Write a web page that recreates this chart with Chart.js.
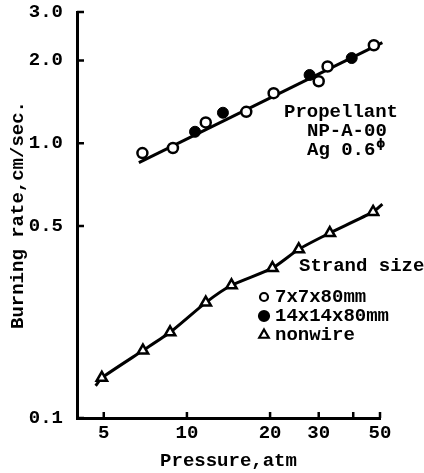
<!DOCTYPE html>
<html>
<head>
<meta charset="utf-8">
<script src="https://cdn.jsdelivr.net/npm/chart.js@4.4.0/dist/chart.umd.min.js"></script>
<style>
  html, body { margin: 0; padding: 0; background: #fff; }
</style>
</head>
<body>
<canvas id="rateChart" width="424" height="473"></canvas>
<script>
// strand 7x7x80mm (open circles)
const p7 = [6.9, 8.9, 11.7, 16.4, 20.6, 30.0, 32.3, 47.5];
const r7 = [0.92, 0.96, 1.19, 1.30, 1.52, 1.68, 1.90, 2.27];
// strand 14x14x80mm (filled circles)
const p14 = [10.7, 13.5, 27.8, 39.5];
const r14 = [1.10, 1.29, 1.77, 2.04];
// nonwire (triangles)
const pNon = [4.92, 6.93, 8.69, 11.7, 14.5, 20.4, 25.4, 32.9, 47.2];
const rNon = [0.140, 0.176, 0.205, 0.263, 0.304, 0.351, 0.411, 0.471, 0.562];
// hand-drawn lines through the points
const fitP = [6.7, 51];
const fitR = [0.85, 2.32];
const curveStart = [4.67, 0.131];
const curveEnd = [51, 0.60];

const xTicks = [5, 10, 20, 30, 40, 50];
const xTickLabels = ['5', '10', '20', '30', '', '50'];
const yTicks = [0.1, 0.5, 1.0, 2.0, 3.0];
const yTickLabels = ['0.1', '0.5', '1.0', '2.0', '3.0'];

const FONT = { family: '"Liberation Mono", "DejaVu Sans Mono", monospace', size: 19, weight: 'bold' };
const pts = (xs, ys) => xs.map((x, i) => ({ x: x, y: ys[i] }));

const curveData = [{ x: curveStart[0], y: curveStart[1] }]
  .concat(pts(pNon, rNon))
  .concat([{ x: curveEnd[0], y: curveEnd[1] }]);

// ticks point inward, like the original log paper
const inwardTicks = {
  id: 'inwardTicks',
  afterDatasetsDraw(chart) {
    const { ctx, chartArea: a, scales: { x, y } } = chart;
    ctx.save();
    ctx.strokeStyle = '#000';
    ctx.lineWidth = 2.5;
    ctx.beginPath();
    xTicks.forEach(v => {
      const px = x.getPixelForValue(v);
      ctx.moveTo(px, a.bottom);
      ctx.lineTo(px, a.bottom - 6);
    });
    yTicks.forEach(v => {
      const py = y.getPixelForValue(v);
      ctx.moveTo(a.left, py);
      ctx.lineTo(a.left + 7, py);
    });
    ctx.stroke();
    ctx.restore();
  }
};

// text notes and the strand size key
const notes = {
  id: 'notes',
  afterDraw(chart) {
    const ctx = chart.ctx;
    ctx.save();
    ctx.fillStyle = '#000';
    ctx.font = 'bold 19px "Liberation Mono", monospace';
    ctx.textBaseline = 'middle';
    ctx.textAlign = 'left';
    ctx.fillText('Propellant', 284, 112);
    ctx.fillText('NP-A-00', 307, 131);
    ctx.fillText('Ag 0.6', 307, 150);
    ctx.fillText('Strand size', 299, 266);
    ctx.fillText('7x7x80mm', 275, 297);
    ctx.fillText('14x14x80mm', 275, 316);
    ctx.fillText('nonwire', 275, 335);
    ctx.font = 'bold 12px "DejaVu Sans", sans-serif';
    ctx.fillText('\u03D5', 376, 144);

    ctx.strokeStyle = '#000';
    ctx.lineWidth = 2.2;
    ctx.fillStyle = '#fff';
    Chart.helpers.drawPoint(ctx, { pointStyle: 'circle', radius: 4, borderWidth: 2.2 }, 264, 297);
    ctx.fillStyle = '#000';
    Chart.helpers.drawPoint(ctx, { pointStyle: 'circle', radius: 5, borderWidth: 1 }, 264, 316);
    ctx.fillStyle = '#fff';
    Chart.helpers.drawPoint(ctx, { pointStyle: 'triangle', radius: 5.5, borderWidth: 2.2 }, 264, 335);
    ctx.restore();
  }
};

new Chart(document.getElementById('rateChart'), {
  type: 'scatter',
  data: {
    datasets: [
      {
        label: '7x7x80mm',
        data: pts(p7, r7),
        pointStyle: 'circle',
        pointRadius: 5,
        borderWidth: 2.5,
        borderColor: '#000',
        backgroundColor: '#fff',
        order: 0
      },
      {
        label: '14x14x80mm',
        data: pts(p14, r14),
        pointStyle: 'circle',
        pointRadius: 5.5,
        borderWidth: 1,
        borderColor: '#000',
        backgroundColor: '#000',
        order: 0
      },
      {
        label: 'nonwire',
        data: pts(pNon, rNon),
        pointStyle: 'triangle',
        pointRadius: 6,
        borderWidth: 2.5,
        borderColor: '#000',
        backgroundColor: '#fff',
        order: 0
      },
      {
        label: 'fit',
        data: pts(fitP, fitR),
        showLine: true,
        borderColor: '#000',
        borderWidth: 3,
        pointRadius: 0,
        clip: 10,
        order: 5
      },
      {
        label: 'nonwire curve',
        data: curveData,
        showLine: true,
        tension: 0.2,
        borderColor: '#000',
        borderWidth: 3,
        pointRadius: 0,
        clip: 10,
        order: 5
      }
    ]
  },
  options: {
    responsive: false,
    animation: false,
    layout: { padding: { top: 12, right: 44, left: 0, bottom: 0 } },
    plugins: {
      legend: { display: false },
      tooltip: { enabled: false }
    },
    scales: {
      x: {
        type: 'logarithmic',
        min: 4,
        max: 50,
        afterBuildTicks: s => { s.ticks = xTicks.map(v => ({ value: v })); },
        afterFit: s => { s.height = 55; s.paddingLeft = 0; s.paddingRight = 0; },
        ticks: {
          callback: (v, i) => xTickLabels[i],
          font: FONT,
          color: '#000',
          padding: 4,
          maxRotation: 0,
          autoSkip: false
        },
        grid: { display: false, drawTicks: false },
        border: { color: '#000', width: 3 },
        title: { display: true, text: 'Pressure,atm', font: FONT, color: '#000', padding: { top: 0, bottom: 0 } }
      },
      y: {
        type: 'logarithmic',
        min: 0.1,
        max: 3.0,
        afterBuildTicks: s => { s.ticks = yTicks.map(v => ({ value: v })); },
        afterFit: s => { s.width = 77; s.paddingTop = 0; s.paddingBottom = 0; },
        ticks: {
          callback: (v, i) => yTickLabels[i],
          font: FONT,
          color: '#000',
          padding: 14,
          autoSkip: false
        },
        grid: { display: false, drawTicks: false },
        border: { color: '#000', width: 3 },
        title: { display: true, text: 'Burning rate,cm/sec.', font: FONT, color: '#000', padding: { top: 7, bottom: 0 } }
      }
    }
  },
  plugins: [inwardTicks, notes]
});
</script>
</body>
</html>
